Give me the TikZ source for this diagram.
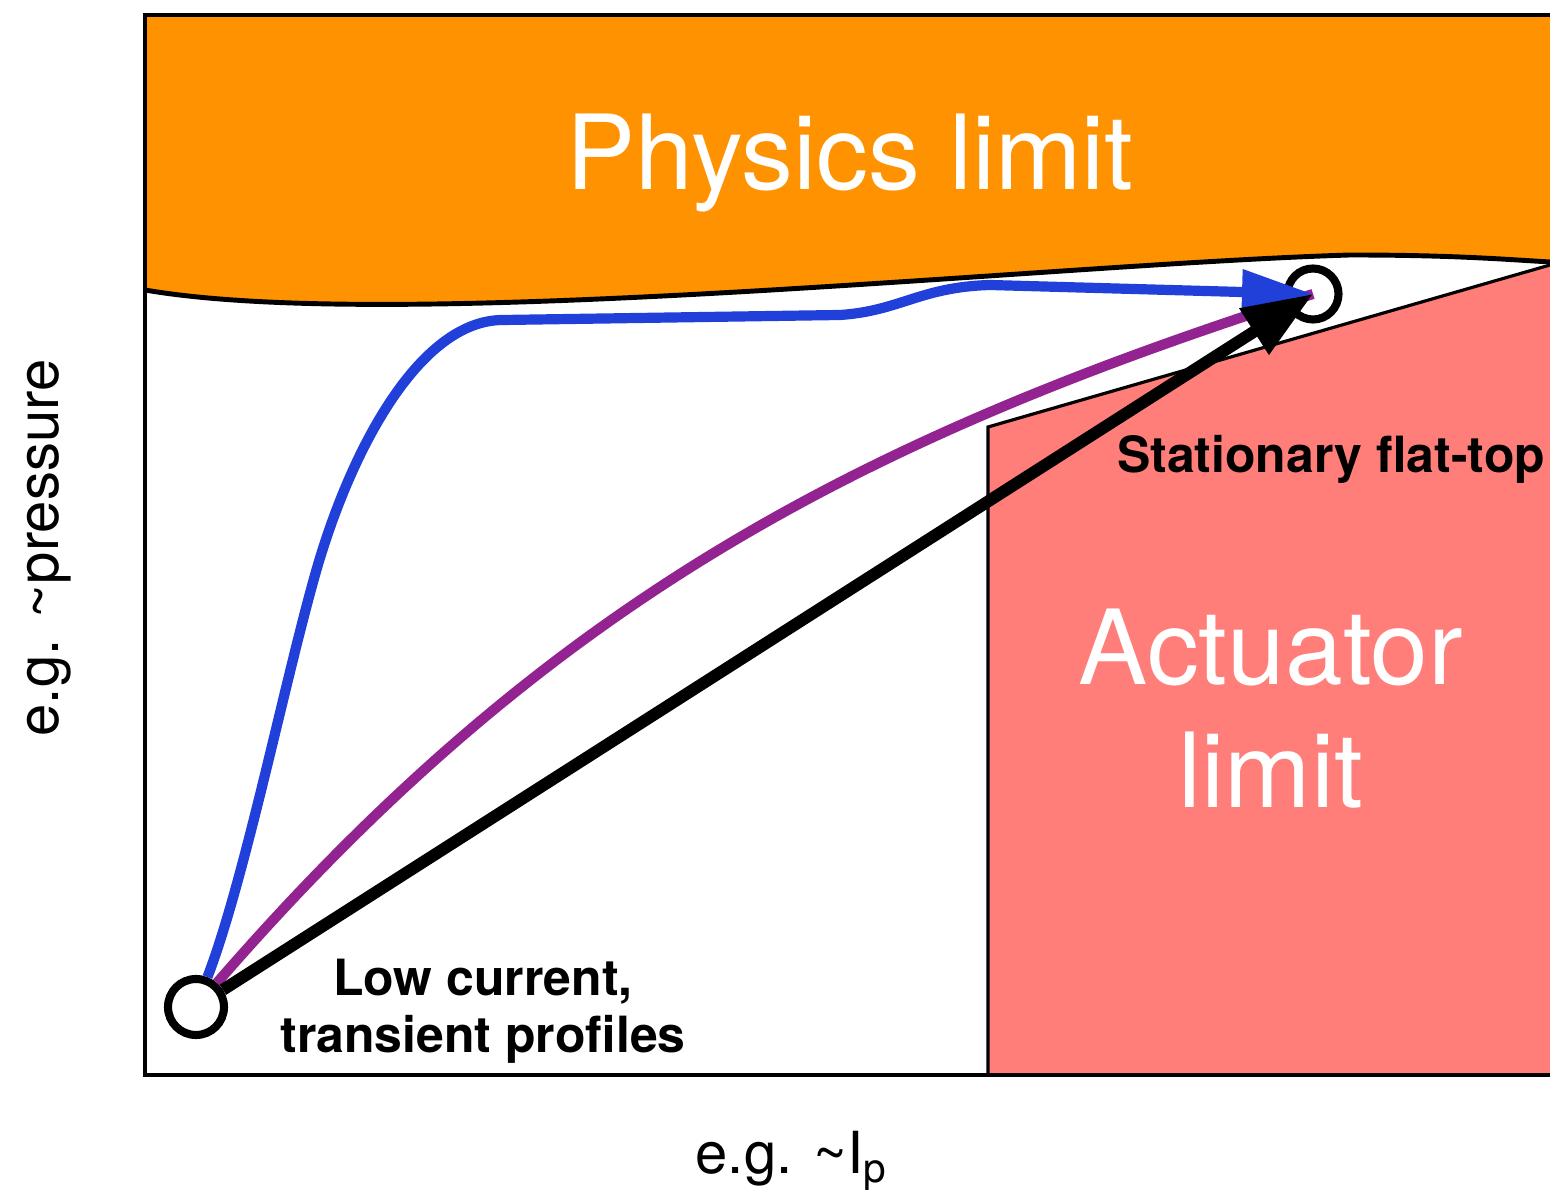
\documentclass[tikz,border=0pt]{standalone}
\usepackage{fontspec}
\setmainfont{TeX Gyre Heros}
\usepackage{xcolor}
\usepackage{tikz}
\usetikzlibrary{arrows.meta}
\definecolor{PLOrange}{HTML}{FF9200}
\definecolor{PLPink}{HTML}{FF7E79}
\definecolor{PLBlue}{HTML}{2140D9}
\definecolor{PLPurple}{HTML}{922391}

\begin{document}
\begin{tikzpicture}[x=1cm,y=1cm,
  state/.style={circle,draw=black,fill=white,line width=2.3pt,inner sep=0pt},
  limitlabel/.style={text=white,font=\fontsize{29.5}{35}\selectfont,align=center},
  notelabel/.style={font=\fontsize{14.2}{16.2}\selectfont\bfseries,align=center},
  axislabel/.style={font=\fontsize{16.5}{19}\selectfont}]
\path[use as bounding box] (0,0) rectangle (15.50,11.89);
% regions
\fill[PLOrange] (1.45,11.74) -- (15.50,11.74) -- (15.50,9.27) .. controls (15.00,9.30) and (14.50,9.34) .. (13.50,9.34) .. controls (10.50,9.25) and (4.00,8.55) .. (1.45,8.99) -- cycle;
\draw[line width=1.4pt] (1.45,8.99) .. controls (4.00,8.55) and (10.50,9.25) .. (13.50,9.34) .. controls (14.50,9.34) and (15.00,9.30) .. (15.50,9.27);
\fill[PLPink] (9.88,1.14) -- (9.88,7.62) -- (15.50,9.24) -- (15.50,1.14) -- cycle;
\draw[line width=0.9pt] (9.88,1.14) -- (9.88,7.62) -- (15.50,9.24);
\draw[line width=0.9pt] (15.50,11.74) -- (1.45,11.74) -- (1.45,1.14) -- (15.50,1.14);
% states
\node[state,minimum size=5.6mm] (lo) at (1.96,1.82) {};
\node[state,minimum size=5.1mm] (ft) at (13.13,8.95) {};
% trajectories
\draw[PLPurple,line width=2.9pt] (lo) .. controls (5.50,5.90) and (8.63,7.51) .. (ft.center);
\draw[PLBlue,line width=2.9pt,-{Triangle[length=7.1mm,width=4.3mm]}] (lo) .. controls (2.45,3.10) and (2.85,5.10) .. (3.17,6.21) .. controls (3.52,7.41) and (4.20,8.69) .. (5.03,8.69) -- (8.40,8.74) .. controls (9.00,8.78) and (9.20,9.02) .. (9.90,9.04) -- (ft.center);
\draw[line width=3.4pt,-{Triangle[length=7mm,width=5.2mm]}] (lo) -- (ft.center);
% labels
\node[limitlabel,anchor=base] (phys) at (8.50,9.99) {Physics limit};
\node[limitlabel,anchor=base] (act) at (12.71,3.81) {Actuator\\limit};
\node[notelabel,anchor=base] (flat) at (13.31,7.16) {Stationary flat-top};
\node[notelabel,anchor=base] (low) at (4.83,1.37) {Low current,\\transient profiles};
\node[axislabel,rotate=90,anchor=base] (ylab) at (0.58,6.41) {e.g. \textasciitilde{}pressure};
\node[axislabel,anchor=base] (xlab) at (7.92,0.16) {e.g. \textasciitilde{}I\textsubscript{p}};
\end{tikzpicture}
\end{document}
